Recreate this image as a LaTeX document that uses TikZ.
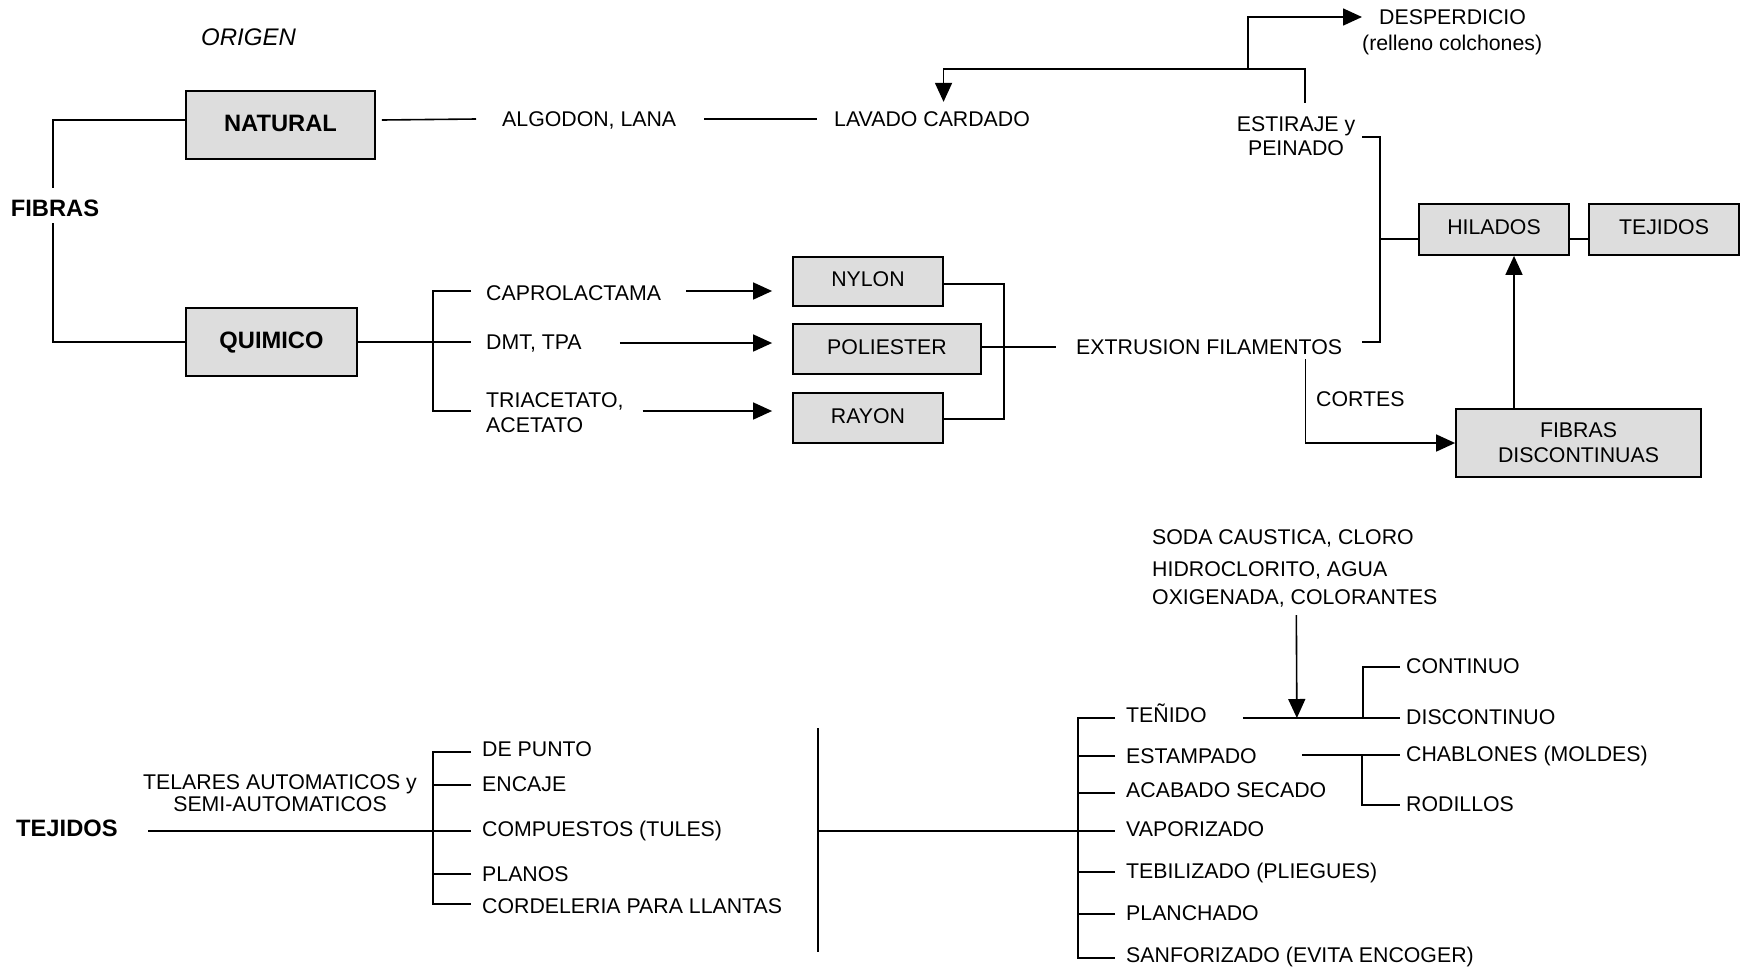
\documentclass[tikz,border=0pt]{standalone}
\usepackage{fontspec}
\setmainfont{Liberation Sans}
\usetikzlibrary{arrows.meta}
\definecolor{boxgray}{RGB}{221,221,221}
\newcommand\myreg{\fontsize{21.3pt}{25pt}\selectfont}
\newcommand\mybold{\fontsize{23.7pt}{28pt}\selectfont\bfseries}
\begin{document}
\begin{tikzpicture}[x=1pt,y=-1pt,
  every node/.style={font=\myreg},
  txt/.style={inner sep=0pt, text height=15.3pt, text depth=0pt, anchor=west},
  ctxt/.style={inner sep=0pt, text height=15.3pt, text depth=0pt, anchor=center},
  btxt/.style={font=\mybold, inner sep=0pt, text height=17pt, text depth=0pt, anchor=west},
  box/.style={draw, fill=boxgray, line width=1.8pt, inner sep=0pt, align=center},
  rbox/.style={box, text height=15.3pt, text depth=5pt},
  bbox/.style={box, font=\mybold, text height=17pt, text depth=5pt},
  ln/.style={line width=1.6pt},
  arr/.style={line width=1.6pt, -{Triangle[length=19pt,width=17pt]}},
]
\useasboundingbox (0,0) rectangle (1744,970);

% ---------------- top part ----------------
\node[txt, font=\fontsize{24pt}{28pt}\selectfont\itshape, text height=17.2pt] (origen) at (201,37) {ORIGEN};
\node[bbox, minimum width=189pt, minimum height=68pt] (nat) at (280.5,125) {NATURAL};
\node[bbox, minimum width=171pt, minimum height=68pt] (qui) at (271.5,342) {QUIMICO};
\node[btxt, anchor=center] (fib) at (55,208) {FIBRAS};
\coordinate (fibT) at (53,188);
\coordinate (fibB) at (53,223);
\draw[ln] ([yshift=5pt]nat.west) -| (fibT);
\draw[ln] (qui.west) -| (fibB);

\node[txt] (algo) at (502,119) {ALGODON, LANA};
\node[txt] (lav) at (834,119) {LAVADO CARDADO};
\draw[ln] ([xshift=6pt,yshift=5pt]nat.east) -- ([xshift=-26pt]algo.west);
\draw[ln, shorten <=28pt, shorten >=17pt] (algo.east) -- (lav.west);

\node[ctxt] (est) at (1296,124) {ESTIRAJE y};
\node[ctxt] (pei) at (1296,148) {PEINADO};
\node[txt] (desp) at (1379,17) {DESPERDICIO};
\node[txt] (rel) at (1362,43) {(relleno colchones)};
\draw[arr] ([xshift=9pt,yshift=13.3pt]est.north) -- ++(0,-34) -| ([xshift=11.5pt,yshift=9.3pt]lav.north);
\coordinate (dj) at (1248,69);
\draw[arr] (dj) |- ([xshift=-17pt]desp.west);

% chemical branch
\node[txt] (capro) at (486,293) {CAPROLACTAMA};
\node[txt] (dmt) at (486,342) {DMT, TPA};
\node[txt] (tria) at (486,400) {TRIACETATO,};
\node[txt] (acet) at (486,425) {ACETATO};
\coordinate (qb) at (433,342);
\draw[ln] (qui.east) -- (qb);
\draw[ln] ([xshift=-15pt,yshift=2pt]capro.west) -| ([xshift=-53pt,yshift=-11pt]tria.west) -- ([xshift=-15pt,yshift=-11pt]tria.west);
\draw[ln] (qb) -- ([xshift=-15pt]dmt.west);

\node[rbox, minimum width=150pt, minimum height=49pt] (nyl) at (868,281.5) {NYLON};
\node[rbox, minimum width=188pt, minimum height=50pt] (pol) at (887,349) {POLIESTER};
\node[rbox, minimum width=150pt, minimum height=50pt] (ray) at (868,418) {RAYON};
\draw[arr] ([xshift=25pt,yshift=2pt]capro.east) -- ([xshift=-20pt,yshift=-9.5pt]nyl.west);
\draw[arr] ([xshift=38pt,yshift=-1pt]dmt.east) -- ([xshift=-20pt,yshift=6pt]pol.west);
\draw[arr] ([xshift=19pt,yshift=-11pt]tria.east) -- ([xshift=-20pt,yshift=7pt]ray.west);
\draw[ln] ([yshift=-2.5pt]nyl.east) -| ([xshift=60pt,yshift=-1pt]ray.east) -- ([yshift=-1pt]ray.east);

\node[txt] (ext) at (1076,347) {EXTRUSION FILAMENTOS};
\draw[ln] ([yshift=2pt]pol.east) -- ([xshift=-20pt]ext.west);

\node[rbox, minimum width=150pt, minimum height=51pt] (hil) at (1494,229.5) {HILADOS};
\node[rbox, minimum width=150pt, minimum height=51pt] (tej) at (1664,229.5) {TEJIDOS};
\node[box, minimum width=245pt, minimum height=68pt] (fd) at (1578.5,443) {FIBRAS\\DISCONTINUAS};
\coordinate (hb) at (1380,239);
\draw[ln] ([xshift=20pt,yshift=5pt]ext.east) -| (hb) |- ([xshift=18pt,yshift=11pt]pei.east);
\draw[ln] (hb) -- ([yshift=-9.5pt]hil.west);
\draw[ln] ([yshift=-9.5pt]hil.east) -- ([yshift=-9.5pt]tej.west);
\draw[arr] ([xshift=-64.5pt]fd.north) -- ([xshift=20pt]hil.south);
\node[txt] (cort) at (1316,399) {CORTES};
\draw[arr] ([xshift=-37pt,yshift=-12pt]ext.east) |- (fd.west);

% ---------------- bottom part ----------------
\node[btxt] (tej2) at (16,828) {TEJIDOS};
\node[ctxt] (tel1) at (280,782) {TELARES AUTOMATICOS y};
\node[ctxt] (tel2) at (280,804) {SEMI-AUTOMATICOS};
\node[txt] (dp) at (482,749) {DE PUNTO};
\node[txt] (enc) at (482,784) {ENCAJE};
\node[txt] (comp) at (482,829) {COMPUESTOS (TULES)};
\node[txt] (pla) at (482,874) {PLANOS};
\node[txt] (cord) at (482,906) {CORDELERIA PARA LLANTAS};
\draw[ln] ([xshift=-11pt,yshift=-3pt]dp.west) -| ([xshift=-49pt,yshift=2pt]cord.west) -- ([xshift=-11pt,yshift=2pt]cord.west);
\draw[ln] ([xshift=-11pt,yshift=-1pt]enc.west) -- ++(-38,0);
\draw[ln] ([xshift=30.6pt,yshift=-3pt]tej2.east) -- ([xshift=-11pt,yshift=-2pt]comp.west);
\draw[ln] ([xshift=-11pt]pla.west) -- ++(-38,0);

\coordinate (vt) at (818,728);
\coordinate (vb) at (818,952);
\coordinate (vm) at (818,831);
\draw[ln] (vt) -- (vb);

\node[txt] (ten) at (1126,715) {TEÑIDO};
\node[txt] (est2) at (1126,756) {ESTAMPADO};
\node[txt] (aca) at (1126,790) {ACABADO SECADO};
\node[txt] (vap) at (1126,829) {VAPORIZADO};
\node[txt] (teb) at (1126,871) {TEBILIZADO (PLIEGUES)};
\node[txt] (pla2) at (1126,913) {PLANCHADO};
\node[txt] (san) at (1126,955) {SANFORIZADO (EVITA ENCOGER)};
\draw[ln] ([xshift=-11pt,yshift=-3pt]ten.west) -| ([xshift=-48pt,yshift=-3pt]san.west) -- ([xshift=-11pt,yshift=-3pt]san.west);
\draw[ln] ([xshift=-11pt]est2.west) -- ++(-37,0);
\draw[ln] ([xshift=-11pt,yshift=-3pt]aca.west) -- ++(-37,0);
\draw[ln] (vm) -- ([xshift=-11pt,yshift=-2pt]vap.west);
\draw[ln] ([xshift=-11pt,yshift=-1pt]teb.west) -- ++(-37,0);
\draw[ln] ([xshift=-11pt,yshift=-1pt]pla2.west) -- ++(-37,0);

\node[txt] (soda) at (1152,537) {SODA CAUSTICA, CLORO};
\node[txt] (hidro) at (1152,569) {HIDROCLORITO, AGUA};
\node[txt] (oxi) at (1152,597) {OXIGENADA, COLORANTES};
\node[txt] (cont) at (1406,666) {CONTINUO};
\node[txt] (disc) at (1406,717) {DISCONTINUO};
\node[txt] (chab) at (1406,754) {CHABLONES (MOLDES)};
\node[txt] (rod) at (1406,804) {RODILLOS};
\draw[ln] ([xshift=36pt,yshift=-3pt]ten.east) -- ([xshift=-6pt,yshift=-1pt]disc.west);
\draw[ln] ([xshift=-43pt,yshift=-1pt]disc.west) |- ([xshift=-6pt,yshift=-1pt]cont.west);
\draw[arr] ([xshift=1.5pt,yshift=-10.3pt]oxi.south) -- ([xshift=90pt,yshift=-3pt]ten.east);
\draw[ln] ([xshift=45pt,yshift=1pt]est2.east) -- ([xshift=-6pt,yshift=-1pt]chab.west);
\draw[ln] ([xshift=-44pt,yshift=-1pt]chab.west) |- ([xshift=-6pt,yshift=-1pt]rod.west);
\end{tikzpicture}
\end{document}
